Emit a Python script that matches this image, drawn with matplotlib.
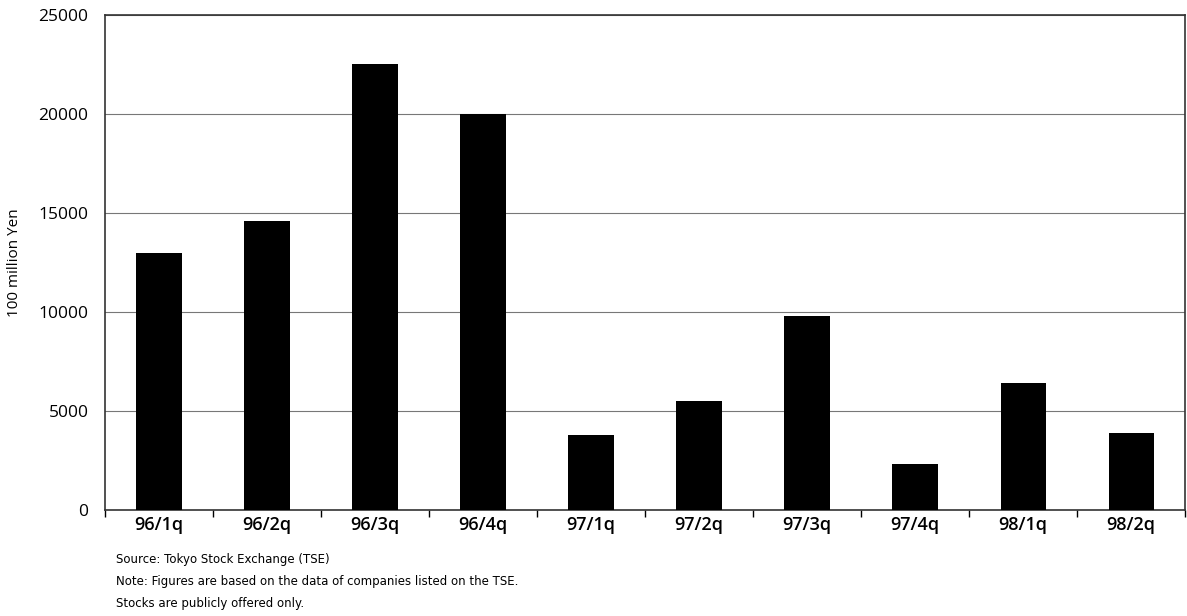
import matplotlib.pyplot as plt
import numpy as np

# Quarterly values, 100 million Yen
quarters = ["96/1q", "96/2q", "96/3q", "96/4q", "97/1q", "97/2q", "97/3q", "97/4q", "98/1q", "98/2q"]
values = [13000, 14600, 22500, 20000, 3800, 5500, 9800, 2300, 6400, 3900]
y_ticks = [0, 5000, 10000, 15000, 20000, 25000]

notes = [
    "Source: Tokyo Stock Exchange (TSE)",
    "Note: Figures are based on the data of companies listed on the TSE.",
    "Stocks are publicly offered only.",
]

plt.rcParams["font.family"] = ["Open Sans", "DejaVu Sans"]

figure = plt.figure(figsize=(11.87, 6.16), dpi=100)
axes = figure.add_axes([0.0885, 0.172, 0.91, 0.804])

x = np.arange(len(quarters))
axes.bar(x, values, width=0.42, color="black", zorder=3)

axes.set_xlim(-0.5, len(quarters) - 0.5)
axes.set_ylim(0, 25000)
axes.set_yticks(y_ticks)
axes.set_yticklabels([str(t) for t in y_ticks], fontsize=12.5)
axes.tick_params(axis="y", length=0, pad=12)

# Category labels centred, tick marks on the boundaries
axes.set_xticks(x)
axes.set_xticklabels(quarters, fontsize=13, fontweight="semibold")
axes.tick_params(axis="x", which="major", length=0, pad=4)
axes.set_xticks(np.arange(len(quarters) + 1) - 0.5, minor=True)
axes.tick_params(axis="x", which="minor", length=5, direction="out", width=1)

axes.yaxis.grid(True, color="#777777", linewidth=0.8, zorder=0)
for spine in axes.spines.values():
    spine.set_linewidth(1.2)
    spine.set_color("#333333")

axes.set_ylabel("100 million Yen", fontsize=11, labelpad=12)

for i, note in enumerate(notes):
    figure.text(0.098, 0.091 - i * 0.035, note, fontsize=8.5, va="center", family=["Liberation Sans Narrow", "DejaVu Sans"])

figure.savefig("out.png", dpi=100)
